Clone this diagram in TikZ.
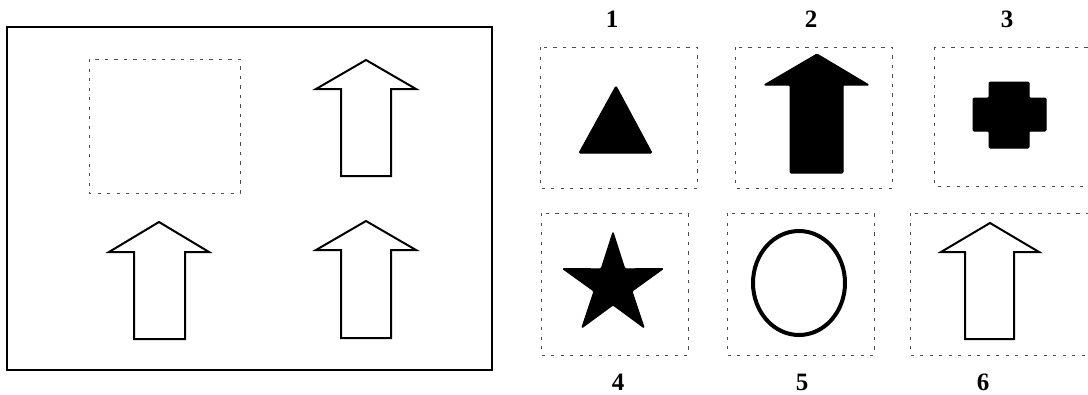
\documentclass[tikz,border=0pt]{standalone}
\usepackage{fontspec}
\setmainfont{Liberation Serif}
\begin{document}
\begin{tikzpicture}[x=1pt,y=-1pt,
  dotbox/.style={draw=black!70,line width=1pt,dash pattern=on 3.2pt off 6.3pt},
  outline/.style={draw=black,line width=2pt,line join=miter},
  solid shape/.style={fill=black,draw=black,line width=1pt,rounded corners=1.2pt},
  numlabel/.style={font=\fontsize{25}{30}\selectfont\bfseries,inner sep=0pt}]
\useasboundingbox (0,0) rectangle (1088,394);
\clip (0,0) rectangle (1088,394);
% left panel
\draw[line width=2.5pt] (7,27) rectangle (492,370);
\draw[dotbox] (89,59) rectangle (240,193);
\draw[outline] (366,60) -- (416,89) -- (391,89) -- (391,176) -- (341,176) -- (341,89) -- (316,89) -- cycle;
\draw[outline] (159,222) -- (209,252) -- (185,252) -- (185,339) -- (134,339) -- (134,252) -- (109,252) -- cycle;
\draw[outline] (366,221) -- (416,250) -- (391,250) -- (391,338) -- (341,338) -- (341,250) -- (316,250) -- cycle;
% option boxes
\draw[dotbox] (540,47) rectangle (697,188);
\draw[dotbox] (735,47) rectangle (892,188);
\draw[dotbox] (934,47) rectangle (1095,186);
\draw[dotbox] (541,213) rectangle (688,355);
\draw[dotbox] (727,213) rectangle (874,355);
\draw[dotbox] (910,213) rectangle (1095,355);
% labels
\node[numlabel] (l1) at (612,19) {1};
\node[numlabel] (l2) at (811,19) {2};
\node[numlabel] (l3) at (1007,19) {3};
\node[numlabel] (l4) at (618,382) {4};
\node[numlabel] (l5) at (802,382) {5};
\node[numlabel] (l6) at (983,382) {6};
% option 1: triangle
\filldraw[solid shape] (616,86) -- (652,153) -- (579,153) -- cycle;
% option 2: filled arrow
\filldraw[solid shape] (817,54) -- (869,85) -- (843,85) -- (843,173) -- (790,173) -- (790,85) -- (764,85) -- cycle;
% option 3: cross
\filldraw[solid shape] (989,82) -- (1029,82) -- (1029,98) -- (1046,98) -- (1046,131) -- (1029,131) -- (1029,148) -- (989,148) -- (989,131) -- (973,131) -- (973,98) -- (989,98) -- cycle;
% option 4: star
\filldraw[solid shape] (613,232) -- (624.8,268.8) -- (663.4,268.6) -- (632.0,291.2) -- (644.2,327.9) -- (613,305) -- (581.8,327.9) -- (594.0,291.2) -- (562.6,268.6) -- (601.2,268.8) -- cycle;
% option 5: circle
\draw[line width=4pt] (799,283) ellipse [x radius=46, y radius=52];
% option 6: outline arrow
\draw[outline] (990,223) -- (1039,252) -- (1014,252) -- (1014,339) -- (965,339) -- (965,252) -- (941,252) -- cycle;
\end{tikzpicture}
\end{document}
